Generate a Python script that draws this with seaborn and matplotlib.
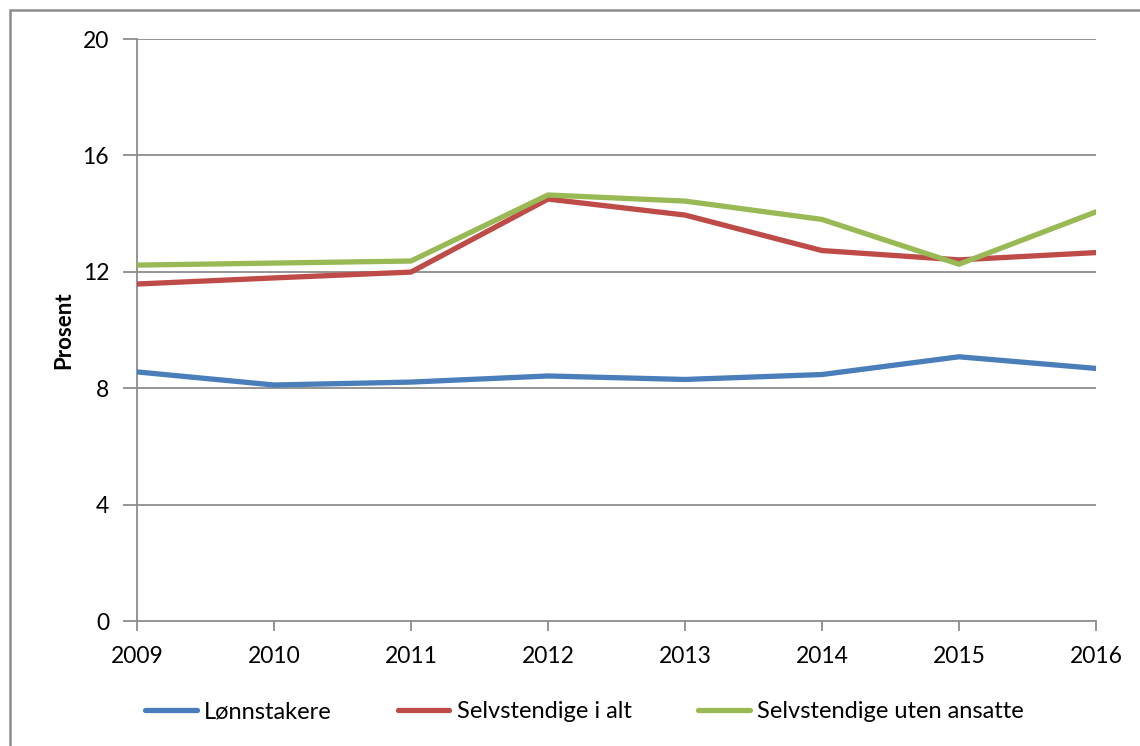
import numpy as np
import pandas as pd
import seaborn as sns
import matplotlib
matplotlib.use("Agg")
import matplotlib.pyplot as plt
from matplotlib.patches import Rectangle

years = [2009, 2010, 2011, 2012, 2013, 2014, 2015, 2016]
lonnstakere = [8.56, 8.11, 8.21, 8.42, 8.30, 8.47, 9.08, 8.68]
selvstendige_alt = [11.58, 11.79, 11.99, 14.50, 13.95, 12.73, 12.41, 12.66]
selvstendige_uten = [12.23, 12.30, 12.37, 14.64, 14.43, 13.80, 12.26, 14.06]
series_names = ["Lønnstakere", "Selvstendige i alt", "Selvstendige uten ansatte"]
colors = ["#4A7EBB", "#BE4B48", "#98B954"]
y_ticks = [0, 4, 8, 12, 16, 20]

df = pd.DataFrame({
    "År": years * 3,
    "Prosent": lonnstakere + selvstendige_alt + selvstendige_uten,
    "Serie": [series_names[0]] * 8 + [series_names[1]] * 8 + [series_names[2]] * 8,
})

sns.set_style("white")
plt.rcParams['font.family'] = ['Lato', 'DejaVu Sans']
plt.rcParams['text.color'] = 'black'
plt.rcParams['axes.labelcolor'] = 'black'
plt.rcParams['xtick.color'] = 'black'
plt.rcParams['ytick.color'] = 'black'

W, H = 1140, 746
fig = plt.figure(figsize=(W / 100, H / 100), dpi=100)
ax = fig.add_axes([137 / W, 1 - 621 / H, (1096 - 137) / W, (621 - 39) / H])

sns.lineplot(data=df, x="År", y="Prosent", hue="Serie", palette=colors,
             hue_order=series_names, linewidth=3.8, ax=ax, legend=False,
             solid_capstyle="round", solid_joinstyle="round", zorder=3)

grey = "#8C8C8C"
ax.set_xlim(years[0], years[-1])
ax.set_ylim(0, 20)
ax.set_yticks(y_ticks)
ax.set_yticklabels([str(t) for t in y_ticks])
ax.set_xticks(years)
ax.set_xticklabels([str(y) for y in years])
for yv in y_ticks[1:]:
    ax.axhline(yv, color=grey, lw=1.3, zorder=1)
for s in ["top", "right"]:
    ax.spines[s].set_visible(False)
for s in ["left", "bottom"]:
    ax.spines[s].set_color(grey)
    ax.spines[s].set_linewidth(1.3)
ax.tick_params(axis="y", length=10, width=1.3, color=grey, labelcolor="black", pad=10,
               labelsize=16.5, direction="out", left=True)
ax.tick_params(axis="x", length=7, width=1.3, color=grey, labelcolor="black", pad=11,
               labelsize=16.5, direction="out", bottom=True)
ax.set_xlabel("")
ax.set_ylabel("Prosent", fontsize=16, fontweight="bold", labelpad=6, color="black")

handles = [plt.Line2D([0], [0], color=c, lw=3.8, solid_capstyle="round") for c in colors]
fig.legend(handles, series_names, loc="center", bbox_to_anchor=(584 / W, 1 - 712 / H),
           ncol=3, frameon=False, fontsize=17, handlelength=2.2, handletextpad=0.3,
           columnspacing=2.8)

fig.add_artist(Rectangle((10 / W, -0.01), 1.2, 1 - 10 / H + 0.01, transform=fig.transFigure,
                         fill=False, edgecolor=grey, lw=1.8))

fig.savefig("out.png", dpi=100)
